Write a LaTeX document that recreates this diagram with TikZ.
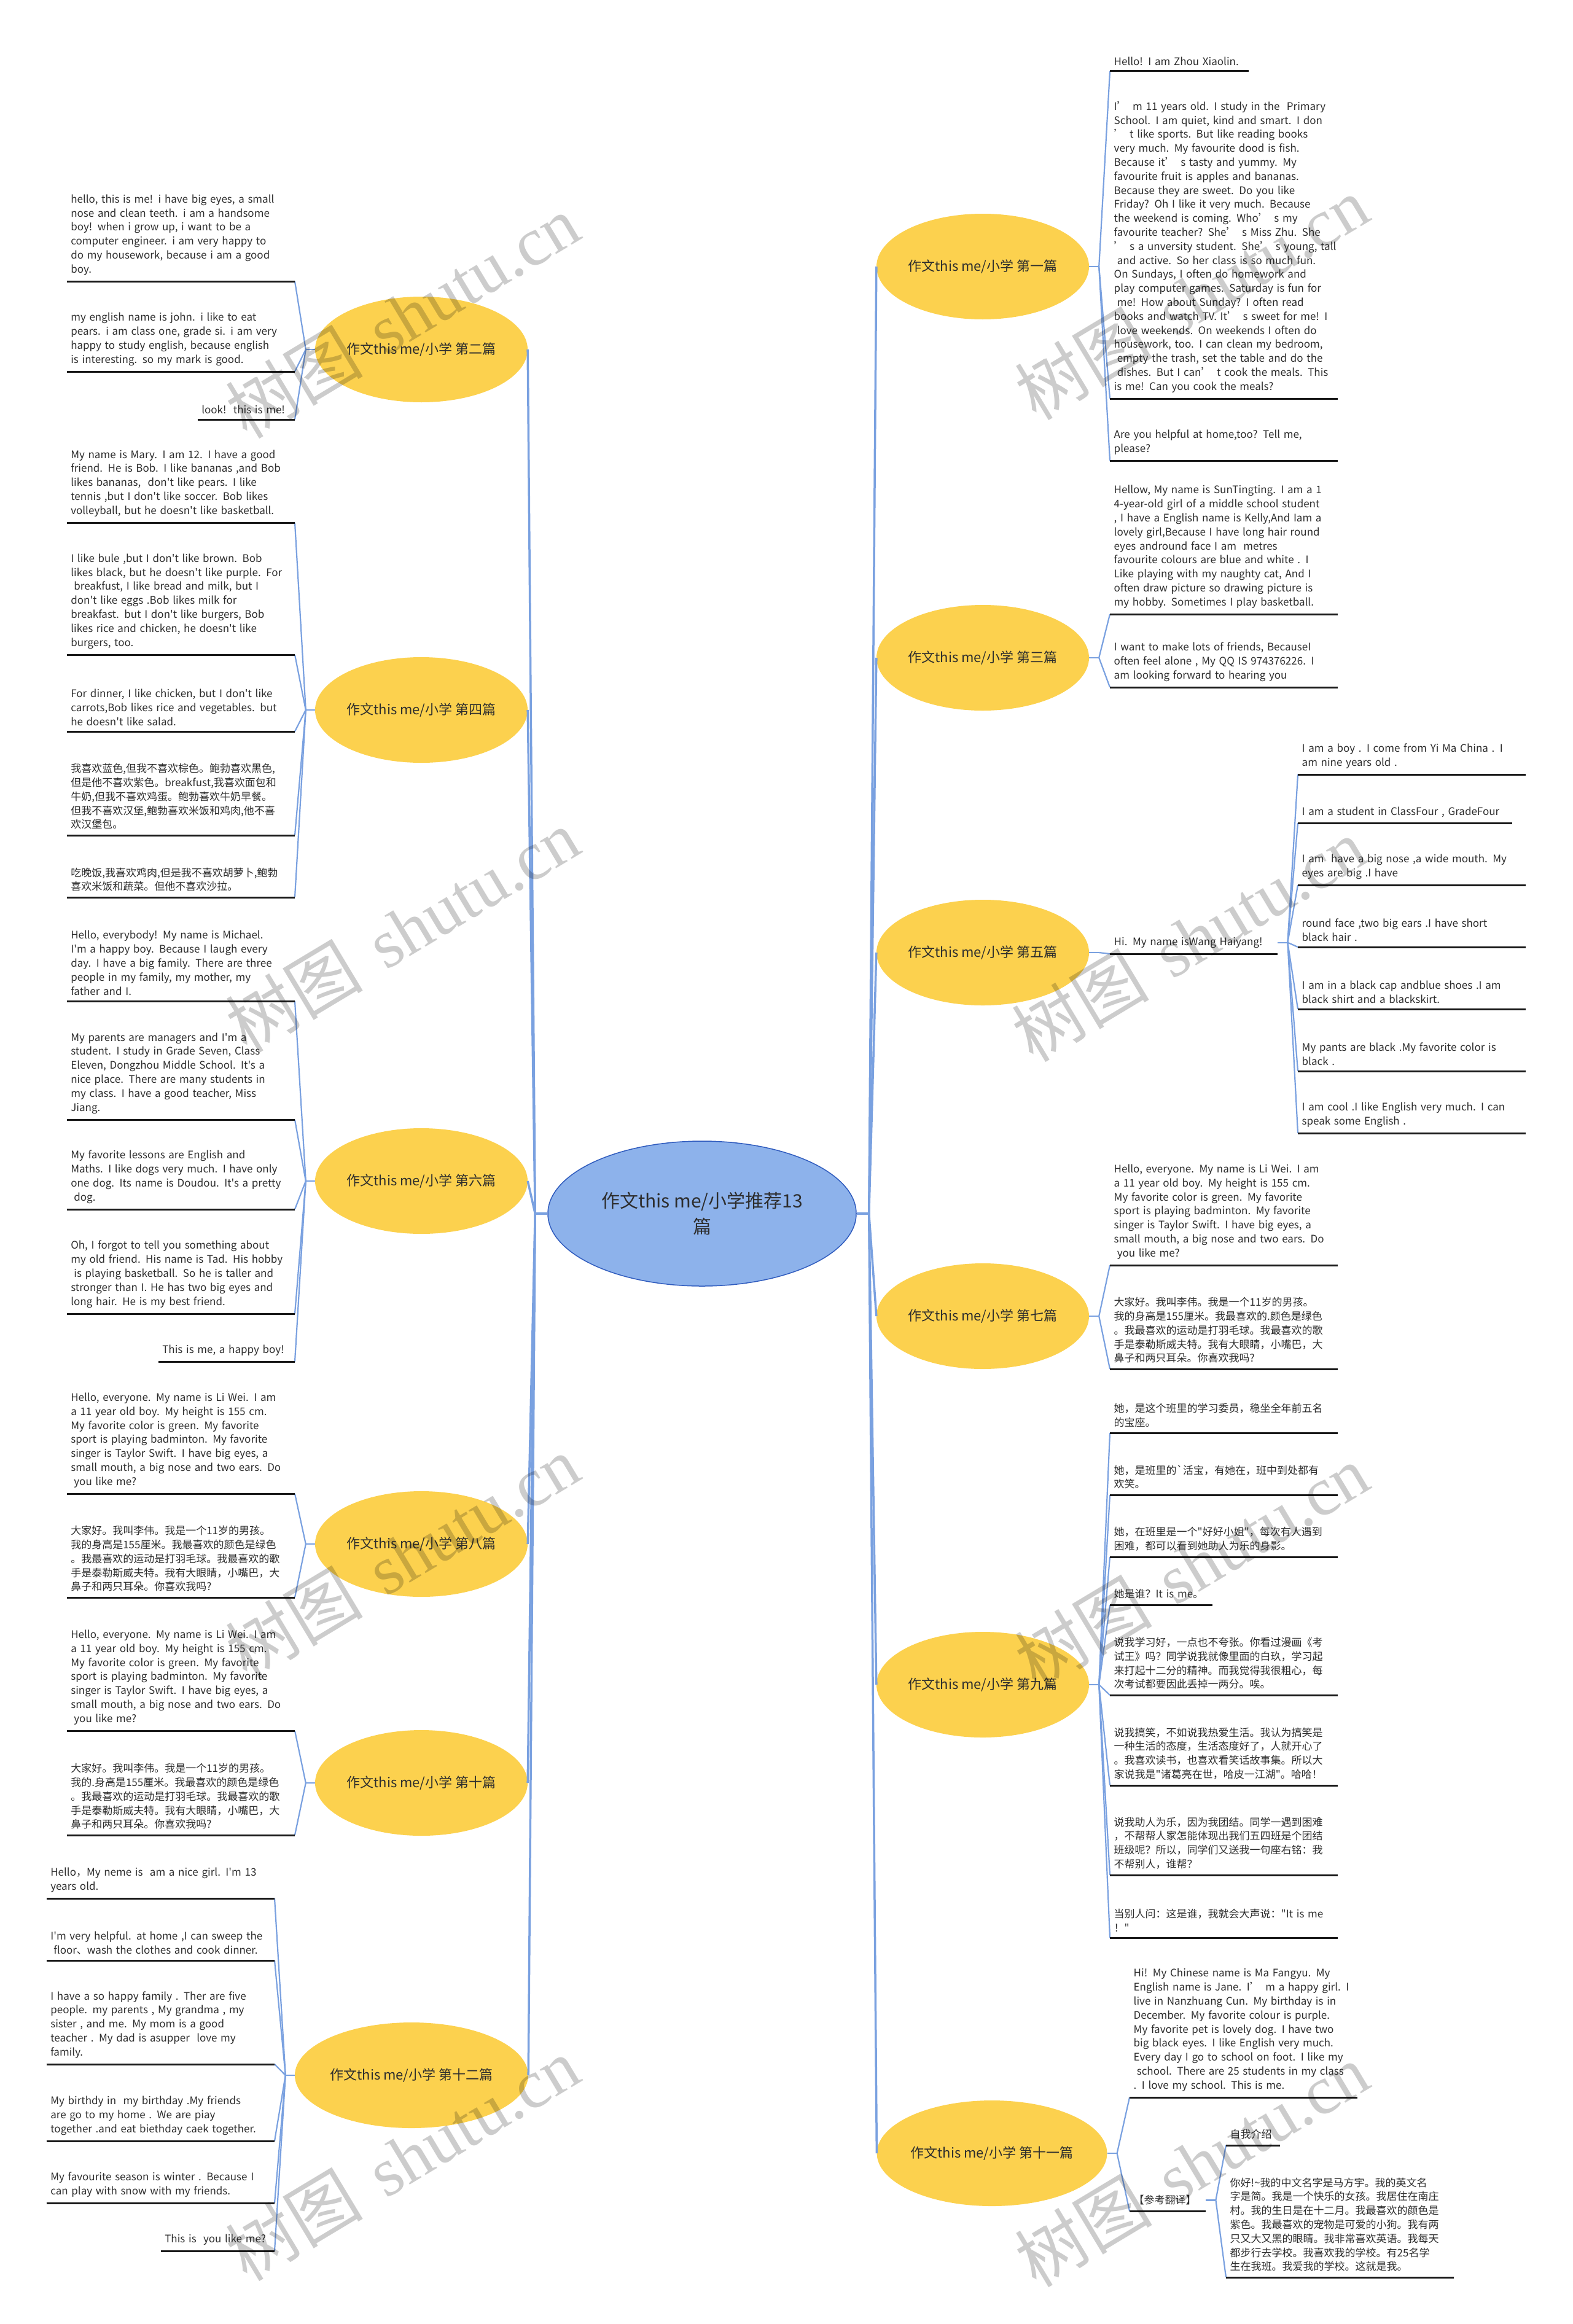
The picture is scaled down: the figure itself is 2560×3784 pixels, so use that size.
\documentclass[tikz,border=0pt]{standalone}
\usepackage{fontspec}
\setmainfont{Noto Sans CJK SC}[Ligatures=TeXOff]
\newfontfamily\wmserif{Liberation Serif}
\usepackage{tikz}
\usetikzlibrary{shapes.geometric,calc}
\usepackage{xcolor}
\definecolor{topicyellow}{RGB}{252,209,78}
\definecolor{rootblue}{RGB}{141,178,235}
\definecolor{rootedge}{RGB}{48,92,190}
\definecolor{linkblue}{RGB}{122,161,224}
\definecolor{inkgray}{RGB}{45,45,45}
\newcommand{\apgap}{’\hspace{0.5em}}
\newcommand{\lsp}{\hspace*{0.3em}}
\newcommand{\looseright}{\rightskip=0pt plus 1fil minus 80pt\relax}
\newcommand{\liweien}{Hello, everyone. My name is Li Wei. I am\\
a 11 year old boy. My height is 155 cm.\\
My favorite color is green. My favorite\\
sport is playing badminton. My favorite\\
singer is Taylor Swift. I have big eyes, a\\
small mouth, a big nose and two ears. Do\\
\lsp you like me?}

\begin{document}
\begin{tikzpicture}[x=1pt,y=-1pt,
    root/.style={ellipse,draw=rootedge,line width=1.5pt,fill=rootblue,minimum width=502pt,minimum height=236pt,inner sep=0pt,align=center,text=inkgray,font=\fontsize{30}{42}\selectfont},
    topic/.style={ellipse,fill=topicyellow,minimum width=346pt,minimum height=172pt,inner sep=0pt,text=inkgray,font=\fontsize{22}{28}\selectfont},
    leaf/.style={inner xsep=6.5pt,inner ysep=9.5pt,align=left,text=inkgray,font=\fontsize{17}{22.8}\selectfont,execute at begin node=\looseright},
    fixw/.style={leaf,text width=358pt},
    lnote/.style={fixw,anchor=south east},
    rnote/.style={fixw,anchor=south west},
    trunk/.style={linkblue,line width=3.5pt},
    twig/.style={linkblue,line width=2.2pt},
    uline/.style={black!90,line width=3pt},
    wmark/.style={text=black,text opacity=0.2,inner sep=0pt,rotate=31,font=\fontsize{112}{120}\selectfont}]
  \fill[white] (0,0) rectangle (2560,3784);
  \useasboundingbox (0,0) rectangle (2560,3784);

  % root and topics
  \node[root] (root) at (1143,1976) {作文this me/小学推荐13\\篇};
  \node[topic] (t2) at (686,569) {作文this me/小学 第二篇};
  \node[topic] (t4) at (686,1156) {作文this me/小学 第四篇};
  \node[topic] (t6) at (686,1923) {作文this me/小学 第六篇};
  \node[topic] (t8) at (686,2514) {作文this me/小学 第八篇};
  \node[topic] (t10) at (686,2903) {作文this me/小学 第十篇};
  \node[topic,minimum width=380pt] (t12) at (670,3379) {作文this me/小学 第十二篇};
  \node[topic] (t1) at (1600,434) {作文this me/小学 第一篇};
  \node[topic] (t3) at (1600,1071) {作文this me/小学 第三篇};
  \node[topic] (t5) at (1600,1551) {作文this me/小学 第五篇};
  \node[topic] (t7) at (1600,2143) {作文this me/小学 第七篇};
  \node[topic] (t9) at (1600,2743) {作文this me/小学 第九篇};
  \node[topic,minimum width=374pt] (t11) at (1615,3506) {作文this me/小学 第十一篇};

  % left leaves
  \node[lnote] (l2a) at (480,458) {hello, this is me! i have big eyes, a small\\
    nose and clean teeth. i am a handsome\\
    boy! when i grow up, i want to be a\\
    computer engineer. i am very happy to\\
    do my housework, because i am a good\\
    boy.};
  \node[lnote] (l2b) at (480,605) {my english name is john. i like to eat\\
    pears. i am class one, grade si. i am very\\
    happy to study english, because english\\
    is interesting. so my mark is good.};
  \node[leaf,anchor=south east,text width=145pt,align=right] (l2c) at (480,683) {look!\ \ this is me!};

  \node[lnote] (l4a) at (480,851) {My name is Mary. I am 12. I have a good\\
    friend. He is Bob. I like bananas ,and Bob\\
    likes bananas,\ \ don't like pears. I like\\
    tennis ,but I don't like soccer. Bob likes\\
    volleyball, but he doesn't like basketball.};
  \node[lnote] (l4b) at (480,1066) {I like bule ,but I don't like brown. Bob\\
    likes black, but he doesn't like purple. For\\
    \lsp breakfust, I like bread and milk, but I\\
    don't like eggs .Bob likes milk for\\
    breakfast. but I don't like burgers, Bob\\
    likes rice and chicken, he doesn't like\\
    burgers, too.};
  \node[lnote] (l4c) at (480,1191) {For dinner, I like chicken, but I don't like\\
    carrots,Bob likes rice and vegetables. but\\
    he doesn't like salad.};
  \node[lnote] (l4d) at (480,1360) {我喜欢蓝色,但我不喜欢棕色。鲍勃喜欢黑色,\\
    但是他不喜欢紫色。breakfust,我喜欢面包和\\
    牛奶,但我不喜欢鸡蛋。鲍勃喜欢牛奶早餐。\\
    但我不喜欢汉堡,鲍勃喜欢米饭和鸡肉,他不喜\\
    欢汉堡包。};
  \node[lnote] (l4e) at (480,1461) {吃晚饭,我喜欢鸡肉,但是我不喜欢胡萝卜,鲍勃\\
    喜欢米饭和蔬菜。但他不喜欢沙拉。};

  \node[lnote] (l6a) at (480,1630) {Hello, everybody! My name is Michael.\\
    I'm a happy boy. Because I laugh every\\
    day. I have a big family. There are three\\
    people in my family, my mother, my\\
    father and I.};
  \node[lnote] (l6b) at (480,1823) {My parents are managers and I'm a\\
    student. I study in Grade Seven, Class\\
    Eleven, Dongzhou Middle School. It's a\\
    nice place. There are many students in\\
    my class. I have a good teacher, Miss\\
    Jiang.};
  \node[lnote] (l6c) at (480,1969) {My favorite lessons are English and\\
    Maths. I like dogs very much. I have only\\
    one dog. Its name is Doudou. It's a pretty\\
    \lsp dog.};
  \node[lnote] (l6d) at (480,2139) {Oh, I forgot to tell you something about\\
    my old friend. His name is Tad. His hobby\\
    \lsp is playing basketball. So he is taller and\\
    stronger than I. He has two big eyes and\\
    long hair. He is my best friend.};
  \node[leaf,anchor=south east,text width=209pt,align=right] (l6e) at (480,2217) {This is me, a happy boy!};

  \node[lnote] (l8a) at (480,2432) {\liweien};
  \node[lnote] (l8b) at (480,2601) {大家好。我叫李伟。我是一个11岁的男孩。\\
    我的身高是155厘米。我最喜欢的颜色是绿色\\
    。我最喜欢的运动是打羽毛球。我最喜欢的歌\\
    手是泰勒斯威夫特。我有大眼睛，小嘴巴，大\\
    鼻子和两只耳朵。你喜欢我吗?};
  \node[lnote] (l10a) at (480,2818) {\liweien};
  \node[lnote] (l10b) at (480,2988) {大家好。我叫李伟。我是一个11岁的男孩。\\
    我的.身高是155厘米。我最喜欢的颜色是绿色\\
    。我最喜欢的运动是打羽毛球。我最喜欢的歌\\
    手是泰勒斯威夫特。我有大眼睛，小嘴巴，大\\
    鼻子和两只耳朵。你喜欢我吗?};

  \node[lnote] (l12a) at (447,3091) {Hello，My neme is\ \ am a nice girl. I'm 13\\
    years old.};
  \node[lnote] (l12b) at (447,3192) {I'm very helpful. at home ,I can sweep the\\
    \lsp floor、wash the clothes and cook dinner.};
  \node[lnote] (l12c) at (447,3361) {I have a so happy family . Ther are five\\
    people. my parents , My grandma , my\\
    sister , and me. My mom is a good\\
    teacher . My dad is asupper\ \ love my\\
    family.};
  \node[lnote] (l12d) at (447,3486) {My birthdy in\ \ my birthday .My friends\\
    are go to my home . We are piay\\
    together .and eat biethday caek together.};
  \node[lnote] (l12e) at (447,3587) {My favourite season is winter . Because I\\
    can play with snow with my friends.};
  \node[leaf,anchor=south east,text width=172pt,align=right] (l12f) at (447,3665) {This is\ \ you like me?};

  % right leaves
  \node[leaf,anchor=south west,text width=213pt] (r1a) at (1807,116) {Hello! I am Zhou Xiaolin.};
  \node[rnote] (r1b) at (1807,649) {I\apgap m 11 years old. I study in the\ \ Primary\\
    School. I am quiet, kind and smart. I don\\
    \apgap t like sports. But like reading books\\
    very much. My favourite dood is fish.\\
    Because it\apgap s tasty and yummy. My\\
    favourite fruit is apples and bananas.\\
    Because they are sweet. Do you like\\
    Friday? Oh I like it very much. Because\\
    the weekend is coming. Who\apgap s my\\
    favourite teacher? She\apgap s Miss Zhu. She\\
    \apgap s a unversity student. She\apgap s young, tall\\
    \lsp and active. So her class is so much fun.\\
    On Sundays, I often do homework and\\
    play computer games. Saturday is fun for\\
    \lsp me! How about Sunday? I often read\\
    books and watch TV. It\apgap s sweet for me! I\\
    \lsp love weekends. On weekends I often do\\
    housework, too. I can clean my bedroom,\\
    \lsp empty the trash, set the table and do the\\
    \lsp dishes. But I can\apgap t cook the meals. This\\
    is me! Can you cook the meals?};
  \node[rnote] (r1c) at (1807,750) {Are you helpful at home,too? Tell me,\\
    please?};

  \node[rnote] (r3a) at (1807,1000) {Hellow, My name is SunTingting. I am a 1\\
    4-year-old girl of a middle school student\\
    , I have a English name is Kelly,And Iam a\\
    lovely girl,Because I have long hair round\\
    eyes andround face I am\ \ metres\\
    favourite colours are blue and white . I\\
    Like playing with my naughty cat, And I\\
    often draw picture so drawing picture is\\
    my hobby. Sometimes I play basketball.};
  \node[rnote] (r3b) at (1807,1119) {I want to make lots of friends, BecauseI\\
    often feel alone , My QQ IS 974376226. I\\
    am looking forward to hearing you};

  \node[leaf,anchor=south west,text width=260pt] (r5) at (1807,1553) {Hi. My name isWang Haiyang!};
  \node[rnote] (s5a) at (2113,1261) {I am a boy . I come from Yi Ma China . I\\
    am nine years old .};
  \node[leaf,anchor=south west,text width=336pt] (s5b) at (2113,1340) {I am a student in ClassFour , GradeFour};
  \node[rnote] (s5c) at (2113,1441) {I am\ \ have a big nose ,a wide mouth. My\\
    eyes are big .I have};
  \node[rnote] (s5d) at (2113,1542) {round face ,two big ears .I have short\\
    black hair .};
  \node[rnote] (s5e) at (2113,1643) {I am in a black cap andblue shoes .I am\\
    black shirt and a blackskirt.};
  \node[rnote] (s5f) at (2113,1744) {My pants are black .My favorite color is\\
    black .};
  \node[rnote] (s5g) at (2113,1845) {I am cool .I like English very much. I can\\
    speak some English .};

  \node[rnote] (r7a) at (1807,2060) {\liweien};
  \node[rnote] (r7b) at (1807,2229) {大家好。我叫李伟。我是一个11岁的男孩。\\
    我的身高是155厘米。我最喜欢的.颜色是绿色\\
    。我最喜欢的运动是打羽毛球。我最喜欢的歌\\
    手是泰勒斯威夫特。我有大眼睛，小嘴巴，大\\
    鼻子和两只耳朵。你喜欢我吗?};

  \node[rnote] (r9a) at (1807,2333) {她，是这个班里的学习委员，稳坐全年前五名\\
    的宝座。};
  \node[rnote] (r9b) at (1807,2434) {她，是班里的`活宝，有她在，班中到处都有\\
    欢笑。};
  \node[rnote] (r9c) at (1807,2535) {她，在班里是一个"好好小姐"，每次有人遇到\\
    困难，都可以看到她助人为乐的身影。};
  \node[leaf,anchor=south west,text width=154pt] (r9d) at (1807,2613) {她是谁？It is me。};
  \node[rnote] (r9e) at (1807,2760) {说我学习好，一点也不夸张。你看过漫画《考\\
    试王》吗？同学说我就像里面的白玖，学习起\\
    来打起十二分的精神。而我觉得我很粗心，每\\
    次考试都要因此丢掉一两分。唉。};
  \node[rnote] (r9f) at (1807,2907) {说我搞笑，不如说我热爱生活。我认为搞笑是\\
    一种生活的态度，生活态度好了，人就开心了\\
    。我喜欢读书，也喜欢看笑话故事集。所以大\\
    家说我是"诸葛亮在世，哈皮一江湖"。哈哈！};
  \node[rnote] (r9g) at (1807,3053) {说我助人为乐，因为我团结。同学一遇到困难\\
    ，不帮帮人家怎能体现出我们五四班是个团结\\
    班级呢？所以，同学们又送我一句座右铭：我\\
    不帮别人，谁帮？};
  \node[rnote] (r9h) at (1807,3155) {当别人问：这是谁，我就会大声说："It is me\\
    ！"};

  \node[rnote] (r11a) at (1839,3415) {Hi! My Chinese name is Ma Fangyu. My\\
    English name is Jane. I\apgap m a happy girl. I\\
    live in Nanzhuang Cun. My birthday is in\\
    December. My favorite colour is purple.\\
    My favorite pet is lovely dog. I have two\\
    big black eyes. I like English very much.\\
    Every day I go to school on foot. I like my\\
    \lsp school. There are 25 students in my class\\
    . I love my school. This is me.};
  \node[leaf,anchor=south west,text width=111pt] (r11b) at (1839,3600) {【参考翻译】};
  \node[leaf,anchor=south west,text width=75pt] (s11a) at (1996,3493) {自我介绍};
  \node[rnote] (s11b) at (1996,3708) {你好!\textasciitilde 我的中文名字是马方宇。我的英文名\\
    字是简。我是一个快乐的女孩。我居住在南庄\\
    村。我的生日是在十二月。我最喜欢的颜色是\\
    紫色。我最喜欢的宠物是可爱的小狗。我有两\\
    只又大又黑的眼睛。我非常喜欢英语。我每天\\
    都步行去学校。我喜欢我的学校。有25名学\\
    生在我班。我爱我的学校。这就是我。};

  % connectors
  \coordinate (rootL) at ([xshift=-20pt]root.west);
  \coordinate (rootR) at ([xshift=20pt]root.east);
  \draw[trunk] (root.west) -- (rootL);
  \draw[trunk] (root.east) -- (rootR);
  \foreach \t in {t2,t4,t6,t8,t10,t12} \draw[trunk] (rootL) -- (\t.east);
  \foreach \t in {t1,t3,t5,t7,t9,t11} \draw[trunk] (rootR) -- (\t.west);

  \foreach \t/\ls in {t2/{l2a,l2b,l2c},t4/{l4a,l4b,l4c,l4d,l4e},t6/{l6a,l6b,l6c,l6d,l6e},
      t8/{l8a,l8b},t10/{l10a,l10b},t12/{l12a,l12b,l12c,l12d,l12e,l12f}}{
    \coordinate (hub\t) at ([xshift=-15pt]\t.west);
    \draw[twig] (\t.west) -- (hub\t);
    \foreach \n in \ls \draw[twig] (hub\t) -- (\n.south east);
  }
  \foreach \t/\ls in {t1/{r1a,r1b,r1c},t3/{r3a,r3b},t5/{r5},t7/{r7a,r7b},
      t9/{r9a,r9b,r9c,r9d,r9e,r9f,r9g,r9h},t11/{r11a,r11b},
      r5/{s5a,s5b,s5c,s5d,s5e,s5f,s5g},r11b/{s11a,s11b}}{
    \coordinate (hub\t) at ([xshift=16pt]\t.east);
    \draw[twig] (\t.east) -- (hub\t);
    \foreach \n in \ls \draw[twig] (hub\t) -- (\n.south west);
  }

  % underlines
  \foreach \n in {l2a,l2b,l2c,l4a,l4b,l4c,l4d,l4e,l6a,l6b,l6c,l6d,l6e,l8a,l8b,l10a,l10b,
      l12a,l12b,l12c,l12d,l12e,l12f,r1a,r1b,r1c,r3a,r3b,r5,s5a,s5b,s5c,s5d,s5e,s5f,s5g,
      r7a,r7b,r9a,r9b,r9c,r9d,r9e,r9f,r9g,r9h,r11a,r11b,s11a,s11b}
    \draw[uline] (\n.south west) -- (\n.south east);

  % watermarks
  \foreach \p [count=\k] in {(655,515),(1940,485),(655,1515),(1935,1530),(655,2535),(1940,2550),(655,3515),(1940,3525)}
    \node[wmark] (wm\k) at \p {树图\hspace{0.35em}{\wmserif shutu.cn}};
\end{tikzpicture}
\end{document}
